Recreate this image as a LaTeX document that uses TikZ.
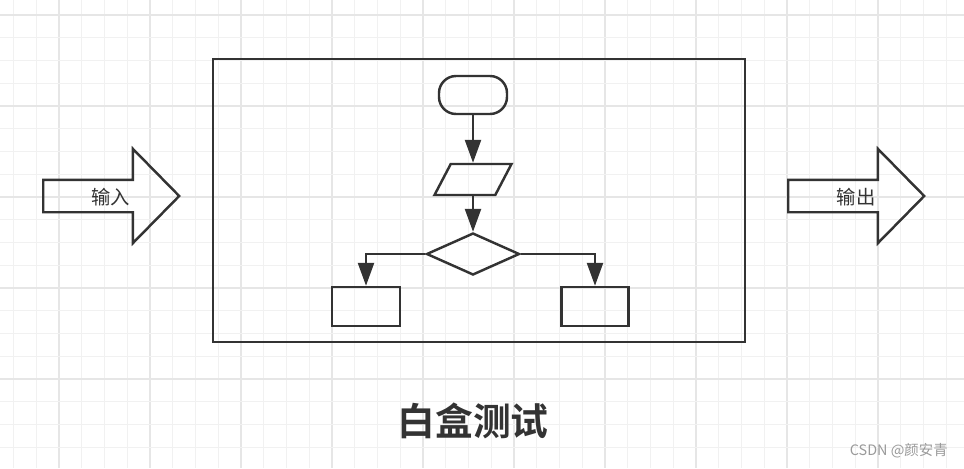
\documentclass[tikz,border=0pt]{standalone}
\usepackage{fontspec}
\setmainfont{Noto Sans CJK SC}[BoldFont={Noto Sans CJK SC Bold}]
\usetikzlibrary{arrows.meta, shapes.geometric, shapes.arrows}
\definecolor{stroke}{HTML}{333333}
\definecolor{grid-minor}{HTML}{F1F1F1}
\definecolor{grid-major}{HTML}{E6E6E6}
\definecolor{mark-gray}{HTML}{9A9A9A}

\begin{document}
\begin{tikzpicture}[x=0.02cm, y=-0.02cm,
    every node/.style={text=stroke},
    flowbox/.style={draw=stroke, line width=1.4pt, inner sep=1pt},
    flowline/.style={draw=stroke, line width=1.4pt, -{Triangle[length=0.46cm, width=0.32cm]}},
    bigarrow/.style={single arrow, draw=stroke, line width=1.4pt, font=\fontsize{11}{13}\selectfont,
      inner xsep=0pt, inner ysep=0pt, text height=0.46cm, text depth=0.14cm,
      minimum height=2.72cm, single arrow head extend=0.62cm, single arrow tip angle=91}]
  \useasboundingbox (0,0) rectangle (964,468);
  \fill[white] (0,0) rectangle (964,468);
  % background grid
  \foreach \k in {0,...,42}{
    \pgfmathtruncatemacro\maj{mod(\k,4)==2}
    \ifnum\maj=1 \def\gc{grid-major}\else\def\gc{grid-minor}\fi
    \draw[\gc, line width=0.8pt] ({13.5+22.75*\k},0) -- ({13.5+22.75*\k},468);
  }
  \foreach \k in {0,...,20}{
    \pgfmathtruncatemacro\maj{mod(\k,4)==0}
    \ifnum\maj=1 \def\gc{grid-major}\else\def\gc{grid-minor}\fi
    \draw[\gc, line width=0.8pt] (0,{15+22.75*\k}) -- (964,{15+22.75*\k});
  }
  % the box
  \node[flowbox, minimum width=10.64cm, minimum height=5.66cm] (box) at (479,200.5) {};
  \node[flowbox, rounded corners=0.34cm, minimum width=1.36cm, minimum height=0.76cm] (start) at (473,95) {};
  \node[flowbox, trapezium, trapezium left angle=70, trapezium right angle=110, trapezium stretches=true,
    minimum width=1.54cm, minimum height=0.62cm] (input) at (473,179.5) {};
  \node[flowbox, diamond, minimum width=1.86cm, minimum height=0.84cm] (cond) at (473,254) {};
  \node[flowbox, minimum width=1.36cm, minimum height=0.78cm] (left) at (366,306.5) {};
  \node[flowbox, minimum width=1.34cm, minimum height=0.78cm] (right) at (595,306.5) {};
  \draw[flowline] (start) -- (input);
  \draw[flowline] (input) -- (cond);
  \draw[flowline] (cond.west) -| (left.north);
  \draw[flowline] (cond.east) -| (right.north);
  % in and out
  \node[bigarrow, anchor=tail] (inarrow) at (42,196) {\hspace*{0.3cm}输入};
  \node[bigarrow, anchor=tail] (outarrow) at (787,196) {\hspace*{0.32cm}输出};
  \node[font=\fontsize{21.5}{25}\selectfont\bfseries] (title) at (473,421) {白盒测试};
  \node[text=mark-gray, font=\fontsize{8.2}{10}\selectfont, anchor=east, inner sep=0pt] (mark) at (948,451) {CSDN @颜安青};
\end{tikzpicture}
\end{document}
